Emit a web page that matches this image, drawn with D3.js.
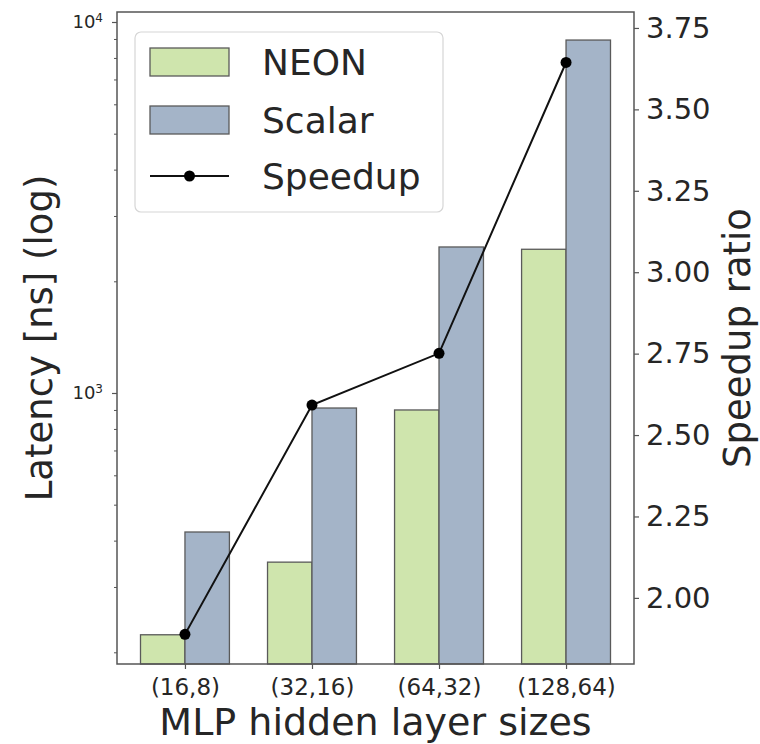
<!DOCTYPE html>
<html>
<head>
<meta charset="utf-8">
<script src="https://cdn.jsdelivr.net/npm/d3@7"></script>
<style>
  body { margin: 0; background: #ffffff; }
  text { font-family: "DejaVu Sans", sans-serif; fill: #262626; }
</style>
</head>
<body>
<div id="chart"></div>
<script>
/* DATA */
const categories = ["(16,8)", "(32,16)", "(64,32)", "(128,64)"];
const neonLatency = [223, 350, 900, 2440];
const scalarLatency = [422, 911, 2475, 8940];
const speedup = [1.888, 2.592, 2.751, 3.644];
const speedupTicks = [2.00, 2.25, 2.50, 2.75, 3.00, 3.25, 3.50, 3.75];
const latencyMajor = [1000, 10000];
const latencyMinor = [200, 300, 400, 500, 600, 700, 800, 900, 2000, 3000, 4000, 5000, 6000, 7000, 8000, 9000];
const seriesNames = ["NEON", "Scalar", "Speedup"];

/* CONSTANTS */
const width = 760,
  height = 744,
  margin = { top: 12, right: 126, bottom: 80, left: 117 };

const neonColor = "#cfe5ad",
  scalarColor = "#a4b4c8",
  edgeColor = "#5a5a5a",
  spineColor = "#555";

/* SCALES */
const xScale = d3.scaleLinear()
  .domain([-0.535, categories.length - 1 + 0.535])
  .range([margin.left, width - margin.right]);

const yScale = d3.scaleLog()
  .domain([186, 10640])
  .range([height - margin.bottom, margin.top]);

const y2Scale = d3.scaleLinear()
  .domain([1.797, 3.799])
  .range([height - margin.bottom, margin.top]);

const barW = 0.35;

/* SVG */
const svg = d3.select("#chart")
  .append("svg")
  .attr("width", width)
  .attr("height", height)
  .style("background-color", "#ffffff");

// bars
const barData = categories.map((c, i) => ({ i, neon: neonLatency[i], scalar: scalarLatency[i] }));

svg.selectAll(".neon")
  .data(barData)
  .join("rect")
  .attr("class", "neon")
  .attr("x", d => xScale(d.i - barW))
  .attr("width", d => xScale(d.i) - xScale(d.i - barW))
  .attr("y", d => yScale(d.neon))
  .attr("height", d => yScale.range()[0] - yScale(d.neon))
  .attr("fill", neonColor)
  .attr("stroke", edgeColor)
  .attr("stroke-width", 1.3);

svg.selectAll(".scalar")
  .data(barData)
  .join("rect")
  .attr("class", "scalar")
  .attr("x", d => xScale(d.i))
  .attr("width", d => xScale(d.i + barW) - xScale(d.i))
  .attr("y", d => yScale(d.scalar))
  .attr("height", d => yScale.range()[0] - yScale(d.scalar))
  .attr("fill", scalarColor)
  .attr("stroke", edgeColor)
  .attr("stroke-width", 1.3);

/* AXES */
// x axis
const xAxis = svg.append("g")
  .attr("transform", `translate(0,${height - margin.bottom})`)
  .call(d3.axisBottom(xScale)
    .tickValues(d3.range(categories.length))
    .tickFormat(i => categories[i])
    .tickSize(5)
    .tickPadding(10));
xAxis.select(".domain").remove();
xAxis.selectAll(".tick line").attr("stroke", spineColor).attr("stroke-width", 1.2);
xAxis.selectAll(".tick text")
  .style("font-size", "23px")
  .style("font-family", "DejaVu Sans")
  .attr("fill", "#262626");

// left log axis: minor ticks
const yMinor = svg.append("g")
  .attr("transform", `translate(${margin.left},0)`)
  .call(d3.axisLeft(yScale).tickValues(latencyMinor).tickSize(3).tickFormat(""));
yMinor.select(".domain").remove();
yMinor.selectAll(".tick line").attr("stroke", spineColor).attr("stroke-width", 1);

// left log axis: major ticks
const yMajor = svg.append("g")
  .attr("transform", `translate(${margin.left},0)`)
  .call(d3.axisLeft(yScale).tickValues(latencyMajor).tickSize(5).tickFormat(""));
yMajor.select(".domain").remove();
yMajor.selectAll(".tick line").attr("stroke", spineColor).attr("stroke-width", 1.2);

const majorLabels = yMajor.selectAll(".tick")
  .append("text")
  .attr("x", -14)
  .attr("dy", "0.32em")
  .attr("text-anchor", "end")
  .style("font-size", "18px")
  .attr("fill", "#262626");
majorLabels.append("tspan").text("10");
majorLabels.append("tspan")
  .attr("dy", "-0.55em")
  .style("font-size", "12px")
  .text(d => Math.round(Math.log10(d)));

// right axis
const y2Axis = svg.append("g")
  .attr("transform", `translate(${width - margin.right},0)`)
  .call(d3.axisRight(y2Scale)
    .tickValues(speedupTicks)
    .tickFormat(d3.format(".2f"))
    .tickSize(5)
    .tickPadding(7));
y2Axis.select(".domain").remove();
y2Axis.selectAll(".tick line").attr("stroke", spineColor).attr("stroke-width", 1.2);
y2Axis.selectAll(".tick text")
  .style("font-size", "29px")
  .style("font-family", "DejaVu Sans")
  .attr("fill", "#262626");

// frame
svg.append("rect")
  .attr("x", margin.left)
  .attr("y", margin.top)
  .attr("width", width - margin.left - margin.right)
  .attr("height", height - margin.top - margin.bottom)
  .attr("fill", "none")
  .attr("stroke", spineColor)
  .attr("stroke-width", 1.5);

// axis titles
svg.append("text")
  .attr("x", (margin.left + width - margin.right) / 2)
  .attr("y", 735)
  .attr("text-anchor", "middle")
  .style("font-size", "38px")
  .text("MLP hidden layer sizes");

svg.append("text")
  .attr("transform", `translate(52,${(margin.top + height - margin.bottom) / 2}) rotate(-90)`)
  .attr("text-anchor", "middle")
  .style("font-size", "37px")
  .text("Latency [ns] (log)");

svg.append("text")
  .attr("transform", `translate(750,${(margin.top + height - margin.bottom) / 2}) rotate(-90)`)
  .attr("text-anchor", "middle")
  .style("font-size", "37px")
  .text("Speedup ratio");

/* SPEEDUP LINE */
const lineGen = d3.line()
  .x((d, i) => xScale(i))
  .y(d => y2Scale(d));

svg.append("path")
  .datum(speedup)
  .attr("fill", "none")
  .attr("stroke", "#111")
  .attr("stroke-width", 2)
  .attr("d", lineGen);

svg.selectAll(".dot")
  .data(speedup)
  .join("circle")
  .attr("class", "dot")
  .attr("cx", (d, i) => xScale(i))
  .attr("cy", d => y2Scale(d))
  .attr("r", 5.5)
  .attr("fill", "#000");

/* LEGEND */
const legend = svg.append("g").attr("transform", "translate(135,32)");
legend.append("rect")
  .attr("width", 308)
  .attr("height", 180)
  .attr("rx", 6)
  .attr("fill", "#fff")
  .attr("fill-opacity", 0.8)
  .attr("stroke", "#d6d6d6")
  .attr("stroke-width", 1.2);

const rowY = [30, 88, 144];
[neonColor, scalarColor].forEach((c, k) => {
  legend.append("rect")
    .attr("x", 15)
    .attr("y", rowY[k] - 14)
    .attr("width", 79)
    .attr("height", 28)
    .attr("fill", c)
    .attr("stroke", edgeColor)
    .attr("stroke-width", 1.3);
});
legend.append("line")
  .attr("x1", 15).attr("x2", 94)
  .attr("y1", rowY[2]).attr("y2", rowY[2])
  .attr("stroke", "#111").attr("stroke-width", 2);
legend.append("circle")
  .attr("cx", 54.5).attr("cy", rowY[2]).attr("r", 5.5).attr("fill", "#000");

legend.selectAll(".label")
  .data(seriesNames)
  .join("text")
  .attr("class", "label")
  .attr("x", 127)
  .attr("y", (d, k) => rowY[k])
  .attr("dy", "0.36em")
  .style("font-size", "36px")
  .text(d => d);
</script>
</body>
</html>
